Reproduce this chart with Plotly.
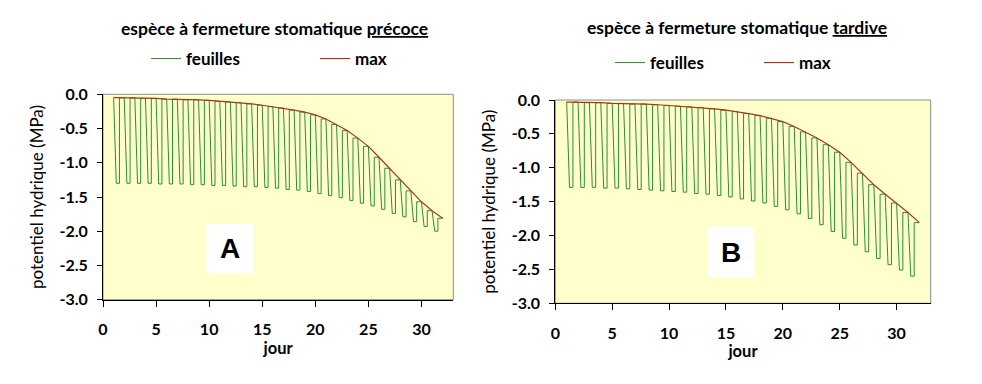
import plotly.graph_objects as go

# ---------------- data ----------------
days = list(range(1, 33))

max_A = [-0.05, -0.05, -0.05, -0.06, -0.06, -0.07, -0.07, -0.08, -0.08, -0.09,
         -0.10, -0.11, -0.12, -0.14, -0.16, -0.18, -0.20, -0.23, -0.26, -0.30,
         -0.36, -0.44, -0.53, -0.64, -0.76, -0.92, -1.08, -1.25, -1.41, -1.57,
         -1.70, -1.81]
min_A = [-1.30, -1.30, -1.30, -1.30, -1.31, -1.31, -1.31, -1.32, -1.32, -1.33,
         -1.33, -1.34, -1.35, -1.35, -1.36, -1.37, -1.39, -1.40, -1.42, -1.45,
         -1.48, -1.51, -1.55, -1.59, -1.63, -1.68, -1.74, -1.79, -1.86, -1.93,
         -2.00, -2.08]

max_B = [-0.03, -0.03, -0.04, -0.04, -0.05, -0.05, -0.06, -0.06, -0.07, -0.08,
         -0.09, -0.10, -0.11, -0.13, -0.15, -0.17, -0.20, -0.23, -0.27, -0.32,
         -0.39, -0.47, -0.56, -0.66, -0.77, -0.92, -1.08, -1.25, -1.39, -1.52,
         -1.66, -1.81]
min_B = [-1.29, -1.29, -1.29, -1.30, -1.30, -1.31, -1.32, -1.33, -1.34, -1.35,
         -1.36, -1.38, -1.39, -1.41, -1.43, -1.46, -1.49, -1.52, -1.57, -1.62,
         -1.68, -1.75, -1.84, -1.94, -2.04, -2.14, -2.24, -2.34, -2.43, -2.51,
         -2.60, -2.68]

x_tick_vals = [0, 5, 10, 15, 20, 25, 30]
y_tick_vals = [0.0, -0.5, -1.0, -1.5, -2.0, -2.5, -3.0]
y_tick_text = ["0.0", "-0.5", "-1.0", "-1.5", "-2.0", "-2.5", "-3.0"]

title_A = "espèce à fermeture stomatique <u>précoce</u>"
title_B = "espèce à fermeture stomatique <u>tardive</u>"
series_names = ["feuilles", "max"]
panel_labels = ["A", "B"]
x_title = "jour"
y_title = "potentiel hydrique (MPa)"

# ---------------- styles ----------------
GREEN = "#2a8f2a"
RED = "#a8361c"
BG = "#FFFFCC"
FONT = "Lato"


def leaf_curve(d, mx, mn):
    """Daily cycle: predawn max -> midday min plateau -> recovery to next max."""
    xs, ys = [], []
    for i in range(len(d) - 1):
        xs += [d[i], d[i] + 0.25, d[i] + 0.55, d[i] + 0.55]
        ys += [mx[i], mn[i], mn[i], mx[i + 1]]
    xs.append(d[-1])
    ys.append(mx[-1])
    return xs, ys


fig = go.Figure()

for k, (mx, mn, xa, ya, lg) in enumerate([
        (max_A, min_A, "x", "y", "legend"),
        (max_B, min_B, "x2", "y2", "legend2")]):
    lx, ly = leaf_curve(days, mx, mn)
    fig.add_trace(go.Scatter(x=lx, y=ly, mode="lines", name=series_names[0],
                             line=dict(color=GREEN, width=1),
                             xaxis=xa, yaxis=ya, legend=lg))
    fig.add_trace(go.Scatter(x=days, y=mx, mode="lines", name=series_names[1],
                             line=dict(color=RED, width=1.2),
                             xaxis=xa, yaxis=ya, legend=lg))

W, H = 982, 384
dom_A_x = [103 / W, 453.3 / W]
dom_A_y = [1 - 299.7 / H, 1 - 94.3 / H]
dom_B_x = [555.3 / W, 930.7 / W]
dom_B_y = [1 - 303.3 / H, 1 - 100 / H]

tickfont = dict(family=FONT, size=16, color="black", weight="bold")


def xaxis(domain, anchor):
    return dict(domain=domain, anchor=anchor, range=[0, 33],
                tickvals=x_tick_vals, ticks="outside", ticklen=6,
                tickcolor="black", showline=True, linecolor="black",
                linewidth=1, showgrid=False, zeroline=False,
                tickfont=tickfont, ticklabelstandoff=9, automargin=False,
                title=dict(text=x_title, standoff=2,
                           font=dict(family=FONT, size=16.5, color="black",
                                     weight="bold")))


def yaxis(domain, anchor):
    return dict(domain=domain, anchor=anchor, range=[-3, 0],
                tickvals=y_tick_vals, ticktext=y_tick_text, ticks="outside",
                ticklen=5, tickcolor="black", showline=True,
                linecolor="black", linewidth=1, showgrid=False,
                zeroline=False, tickfont=tickfont, ticklabelstandoff=6,
                automargin=False,
                title=dict(text=y_title, standoff=11,
                           font=dict(family=FONT, size=17, color="black")))


legend_font = dict(family=FONT, size=17, color="black", weight="bold")

fig.update_layout(
    width=W, height=H,
    margin=dict(l=0, r=0, t=0, b=0, autoexpand=False),
    paper_bgcolor="white",
    plot_bgcolor=BG,
    xaxis=xaxis(dom_A_x, "y"),
    yaxis=yaxis(dom_A_y, "x"),
    xaxis2=xaxis(dom_B_x, "y2"),
    yaxis2=yaxis(dom_B_y, "x2"),
    legend=dict(orientation="h", x=146 / W, y=1 - 59 / H, xanchor="left",
                yanchor="middle", font=legend_font, entrywidth=124,
                entrywidthmode="pixels", bgcolor="rgba(0,0,0,0)",
                itemwidth=30, tracegroupgap=0),
    legend2=dict(orientation="h", x=610 / W, y=1 - 63 / H, xanchor="left",
                 yanchor="middle", font=legend_font, entrywidth=104,
                 entrywidthmode="pixels", bgcolor="rgba(0,0,0,0)",
                 itemwidth=30, tracegroupgap=0),
    showlegend=True,
)

# plot-area border (grey on top/right), drawn below the black axis lines
for xr, yr in [("x domain", "y domain"), ("x2 domain", "y2 domain")]:
    fig.add_shape(type="rect", xref=xr, yref=yr, x0=0, x1=1, y0=0, y1=1,
                  line=dict(color="#8c8c8c", width=1), layer="below")

title_font = dict(family=FONT, size=17.5, color="black", weight="bold")
fig.add_annotation(text=title_A, xref="paper", yref="paper",
                   x=274.5 / W, y=1 - 28.3 / H, showarrow=False,
                   font=title_font, xanchor="center", yanchor="middle")
fig.add_annotation(text=title_B, xref="paper", yref="paper",
                   x=736.5 / W, y=1 - 27.3 / H, showarrow=False,
                   font=title_font, xanchor="center", yanchor="middle")

label_font = dict(family="Liberation Sans", size=28, color="black",
                  weight="bold")
fig.add_annotation(text=panel_labels[0], xref="paper", yref="paper",
                   x=230 / W, y=1 - 248.5 / H, showarrow=False,
                   font=label_font, bgcolor="white", width=44, height=47,
                   xanchor="center", yanchor="middle", borderpad=1)
fig.add_annotation(text=panel_labels[1], xref="paper", yref="paper",
                   x=731 / W, y=1 - 252 / H, showarrow=False,
                   font=label_font, bgcolor="white", width=44, height=48,
                   xanchor="center", yanchor="middle", borderpad=1)

fig.write_html("out.html",
               config={"displayModeBar": False},
               post_script="document.body.style.margin='0';"
                           "document.body.style.overflow='hidden';")
